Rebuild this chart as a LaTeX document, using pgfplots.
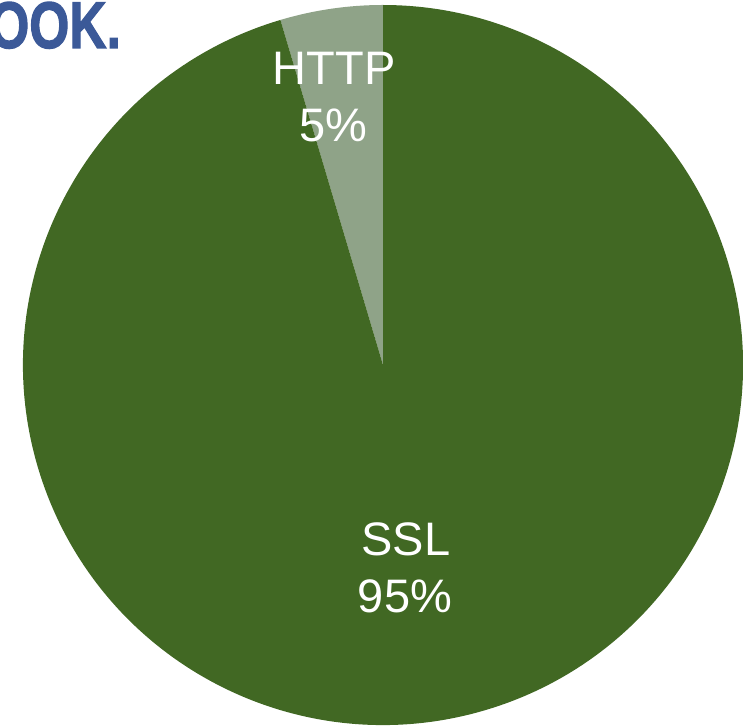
\documentclass[border=0pt]{standalone}
\usepackage{pgfplots}
\pgfplotsset{compat=1.18}
\usepackage{fontspec}
\setmainfont{Liberation Sans}
\definecolor{sslgreen}{RGB}{65,104,35}
\definecolor{httpgreen}{RGB}{143,163,136}
\definecolor{fbblue}{RGB}{59,89,152}
% pie data: share in percent
\def\httpval{4.6}
\def\sslval{95.4}
\begin{document}
\begin{tikzpicture}
\begin{axis}[
  x=1pt, y=1pt,
  xmin=0, xmax=743, ymin=0, ymax=726,
  hide axis, clip=false,
]
\coordinate (ll) at (axis cs:0,0);
\coordinate (ur) at (axis cs:743,726);
% HTTP slice: starts at 12 o'clock, counterclockwise
\fill[httpgreen] (axis cs:383,361) -- ++(90:360pt)
  arc[start angle=90, delta angle={\httpval*3.6}, radius=360pt] -- cycle;
% SSL slice
\fill[sslgreen] (axis cs:383,361) -- ++({90+\httpval*3.6}:360pt)
  arc[start angle={90+\httpval*3.6}, delta angle={\sslval*3.6}, radius=360pt] -- cycle;
% labels
\node[white, anchor=base, inner sep=0pt, font=\fontsize{47}{56}\selectfont] at (axis cs:334,641) {HTTP};
\node[white, anchor=base, inner sep=0pt, font=\fontsize{47}{56}\selectfont] at (axis cs:333,584) {5\%};
\node[white, anchor=base, inner sep=0pt, font=\fontsize{47}{56}\selectfont] at (axis cs:406,171) {SSL};
\node[white, anchor=base, inner sep=0pt, font=\fontsize{47}{56}\selectfont] at (axis cs:405,114) {95\%};
% logo fragment
\node[fbblue, anchor=base east, inner sep=0pt, xscale=0.78, font=\fontsize{66}{70}\selectfont\bfseries\addfontfeature{FakeBold=2}] at (axis cs:121,678) {FACEBOOK.};
\end{axis}
\pgfresetboundingbox
\path[use as bounding box] (ll) rectangle (ur);
\end{tikzpicture}
\end{document}
